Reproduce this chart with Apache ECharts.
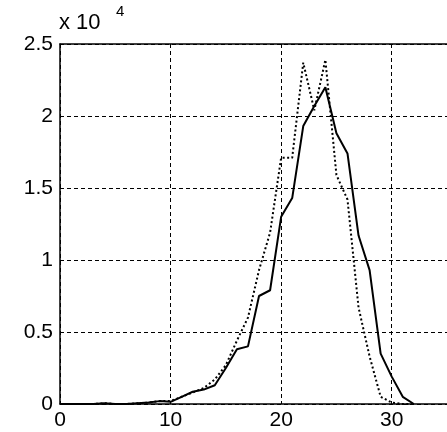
<!DOCTYPE html>
<html><head><meta charset="utf-8">
<script src="https://cdn.jsdelivr.net/npm/echarts@6/dist/echarts.min.js"></script>
<style>html,body{margin:0;padding:0;background:#fff}#c{width:447px;height:432px}</style>
</head><body><div id="c"></div>
<script>
// values in units of 1e4
const xValues = [0,1,2,3,4,5,6,7,8,9,10,11,12,13,14,15,16,17,18,19,20,21,22,23,24,25,26,27,28,29,30,31,32];
const solidSeries = [0,0,0,0,0.005,0,0,0.005,0.01,0.02,0.015,0.05,0.085,0.10,0.13,0.25,0.38,0.40,0.75,0.79,1.30,1.43,1.93,2.07,2.20,1.88,1.74,1.17,0.93,0.35,0.19,0.05,0];
const dottedSeries = [0,0,0,0,0.005,0,0,0.005,0.01,0.02,0.02,0.05,0.08,0.11,0.17,0.27,0.44,0.60,0.93,1.19,1.71,1.71,2.37,2.04,2.39,1.59,1.42,0.67,0.33,0.05,0.01,0,0];
const yTickLabels = ['0','0.5','1','1.5','2','2.5'];

const chart = echarts.init(document.getElementById('c'), null, {renderer:'canvas'});
const font = 'Liberation Sans';
const pair = arr => xValues.map((x,i)=>[x,arr[i]]);
chart.setOption({
  animation:false,
  backgroundColor:'#fff',
  title:[
    {text:'x 10', left:59, top:12, padding:0, textStyle:{fontSize:22, fontWeight:'normal', fontFamily:font, color:'#000'}},
    {text:'4', left:116, top:4, padding:0, textStyle:{fontSize:15, fontWeight:'normal', fontFamily:font, color:'#000'}}
  ],
  grid:{left:60, top:44, width:391, height:360},
  xAxis:[{
    type:'value', min:0, max:35, interval:10,
    axisLine:{show:true, lineStyle:{color:'#000', width:1.5}},
    axisTick:{show:false},
    axisLabel:{color:'#000', fontSize:21, fontFamily:font, margin:6, showMaxLabel:false},
    splitLine:{show:true, lineStyle:{color:'#000', width:1, type:[4,3]}}
  },{
    type:'value', min:0, max:35, position:'top',
    axisLine:{show:true, onZero:false, lineStyle:{color:'#000', width:1.5}},
    axisTick:{show:false}, axisLabel:{show:false}, splitLine:{show:false}
  }],
  yAxis:{
    type:'value', min:0, max:2.5, interval:0.5,
    axisLine:{show:true, lineStyle:{color:'#000', width:1.5}},
    axisTick:{show:false},
    axisLabel:{color:'#000', fontSize:21, fontFamily:font, margin:7,
      formatter:(v)=>yTickLabels[Math.round(v/0.5)]},
    splitLine:{show:true, lineStyle:{color:'#000', width:1, type:[4,3]}}
  },
  series:[
    {type:'line', data:pair(dottedSeries), symbol:'none', xAxisIndex:0,
      lineStyle:{color:'#000', width:2, type:[2,2.5]}},
    {type:'line', data:pair(solidSeries), symbol:'none', xAxisIndex:0,
      lineStyle:{color:'#000', width:2}}
  ]
});
</script></body></html>
